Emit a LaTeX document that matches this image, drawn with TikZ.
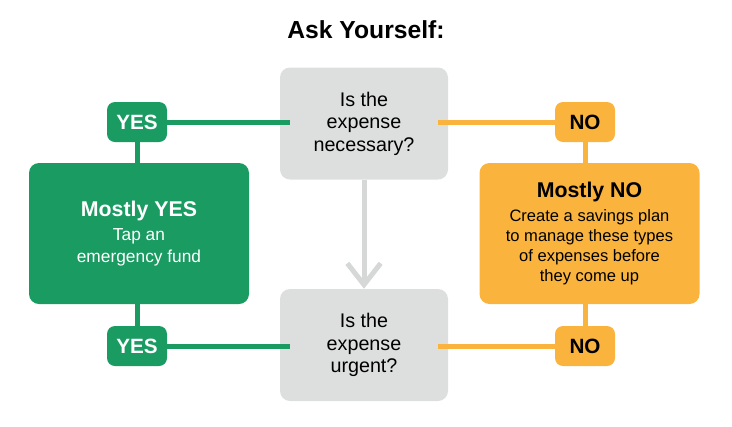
\documentclass[tikz,border=0pt]{standalone}
\usepackage{fontspec}
\setmainfont{Liberation Sans}
\usetikzlibrary{arrows.meta}
\definecolor{yesgreen}{RGB}{26,155,98}
\definecolor{noorange}{RGB}{250,180,62}
\definecolor{qgray}{RGB}{221,223,222}
\definecolor{arrowgray}{RGB}{214,216,215}
\newcommand{\headline}[1]{{\bfseries\fontsize{16}{19}\selectfont #1}}
\begin{document}
\begin{tikzpicture}[x=0.75pt,y=-0.75pt,
  question/.style={fill=qgray,rounded corners=7.5pt,minimum width=126pt,
    minimum height=84pt,align=center,font=\fontsize{14.8}{16.8}\selectfont},
  answer/.style={rounded corners=7.5pt,minimum width=165pt,minimum height=105.75pt,align=center},
  badge/.style={rounded corners=6pt,minimum width=45pt,minimum height=30pt,
    inner sep=0pt,font=\bfseries\fontsize{15.5}{18}\selectfont},
  yesline/.style={yesgreen,line width=3.75pt},
  noline/.style={noorange,line width=3.75pt}]
  \useasboundingbox (0,0) rectangle (732,426);
  \node[font=\bfseries\fontsize{18.5}{22}\selectfont] (title) at (366,30) {Ask Yourself:};
  % questions
  \node[question] (q1) at (364,123.5) {Is the\\expense\\necessary?};
  \node[question] (q2) at (364,345) {Is the\\expense\\urgent?};
  % outcomes
  \node[answer,fill=yesgreen,text=white,font=\fontsize{13}{16.5}\selectfont] (yesbox) at (139,233.5)
    {\headline{Mostly YES}\\[1pt]Tap an\\emergency fund};
  \node[answer,fill=noorange,text=black,font=\fontsize{12.4}{15}\selectfont] (nobox) at (589.5,233.5)
    {\headline{Mostly NO}\\[3pt]Create a savings plan\\to manage these types\\
     of expenses before\\they come up};
  % badges
  \node[badge,fill=yesgreen,text=white] (yes1) at (137,122) {YES};
  \node[badge,fill=yesgreen,text=white] (yes2) at (137,346) {YES};
  \node[badge,fill=noorange,text=black] (no1) at (585,122) {NO};
  \node[badge,fill=noorange,text=black] (no2) at (585,346) {NO};
  % connectors
  \draw[yesline,shorten >=-7.5pt] (yes1.east) -- (yes1.east -| q1.west);
  \draw[yesline] (yes1.south) -- (yes1.south |- yesbox.north);
  \draw[yesline] (yes2.north) -- (yes2.north |- yesbox.south);
  \draw[yesline,shorten >=-7.5pt] (yes2.east) -- (yes2.east -| q2.west);
  \draw[noline,shorten <=-7.5pt] (no1.west -| q1.east) -- (no1.west);
  \draw[noline] (no1.south) -- (no1.south |- nobox.north);
  \draw[noline] (no2.north) -- (no2.north |- nobox.south);
  \draw[noline,shorten <=-7.5pt] (no2.west -| q2.east) -- (no2.west);
  \draw[arrowgray,line width=3.75pt,-{Straight Barb[length=16pt,width=25pt]}] (q1.south) -- (q2.north);
\end{tikzpicture}
\end{document}
